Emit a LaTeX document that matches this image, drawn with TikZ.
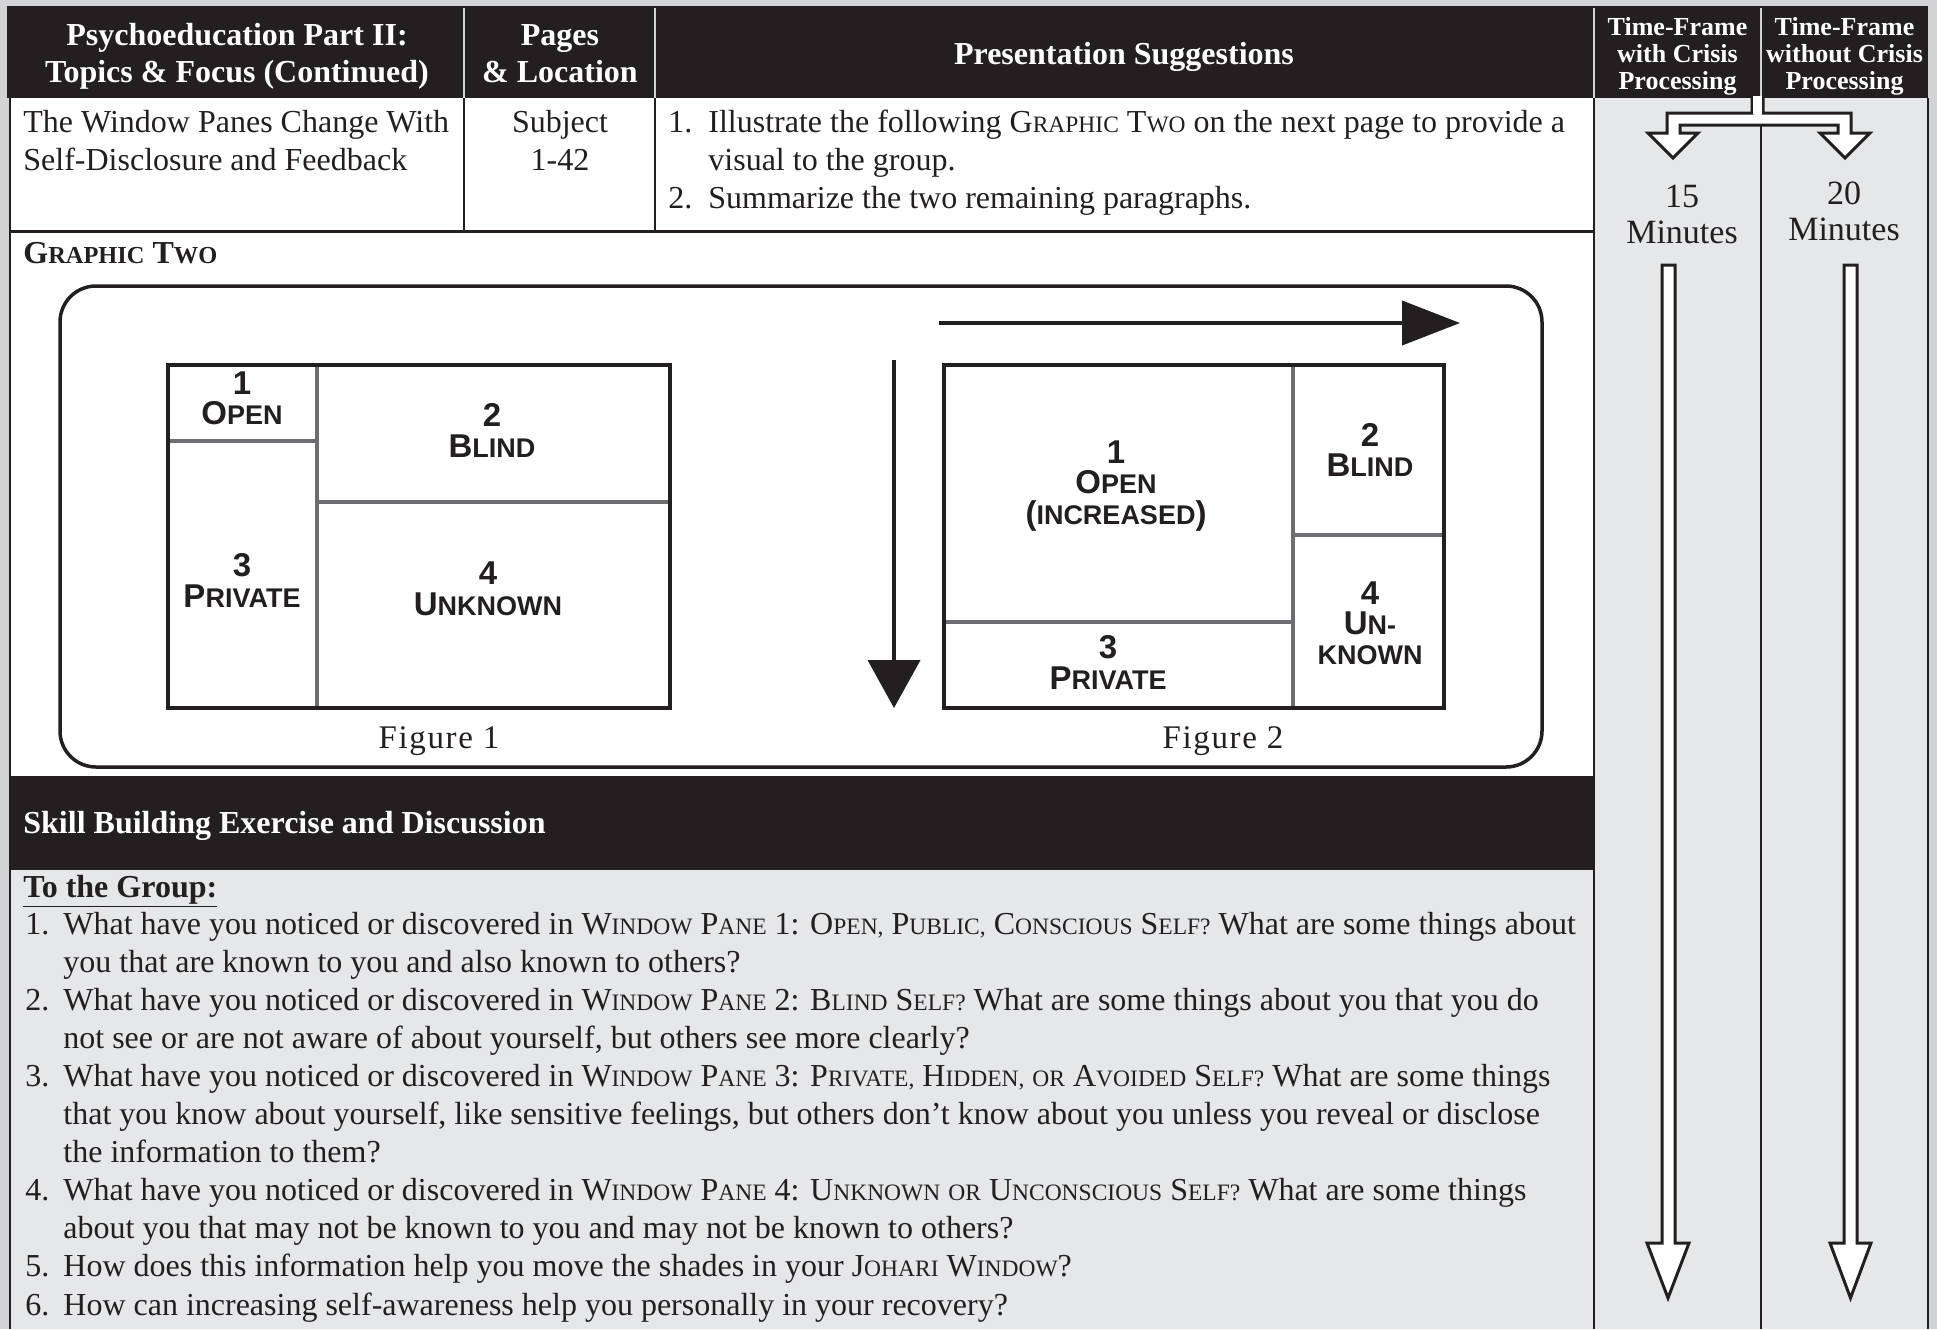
\documentclass[tikz,border=0pt]{standalone}
\usepackage{fontspec}
\setmainfont{Liberation Serif}
\newfontfamily\lsans{Liberation Sans}
\newfontfamily\figfont[LetterSpace=5]{Liberation Serif}
\usetikzlibrary{arrows.meta}
\definecolor{ink}{HTML}{231F20}
\definecolor{margin}{HTML}{D1D3D4}
\definecolor{lgray}{HTML}{E6E7E8}
\definecolor{pane}{HTML}{6D6E71}
\newcommand\sk[1]{{\fontsize{11.75}{12}\selectfont #1}}
\newcommand\skb[1]{{\fontsize{12.2}{12}\selectfont #1}}
\newcommand\fb[1]{{\fontsize{16.5}{16}\selectfont #1}}
\newcommand\fs[1]{{\fontsize{13.5}{13}\selectfont #1}}
\begin{document}
\begin{tikzpicture}[x=0.5pt,y=-0.5pt,
  hd/.style={anchor=base, inner sep=0, text=white, font=\bfseries\fontsize{16}{18}\selectfont},
  hdl/.style={hd, anchor=base west},
  tf/.style={anchor=base, inner sep=0, text=white, font=\bfseries\fontsize{13}{14}\selectfont},
  bd/.style={anchor=base west, inner sep=0, text=ink, font=\fontsize{16}{18}\selectfont},
  bdc/.style={bd, anchor=base},
  bdb/.style={bd, font=\bfseries\fontsize{16}{18}\selectfont},
  mn/.style={anchor=base, inner sep=0, text=ink, font=\fontsize{17}{18}\selectfont},
  lb/.style={anchor=base, inner sep=0, text=ink, font=\lsans\bfseries},
  figcap/.style={anchor=base, inner sep=0, text=ink, font=\figfont\fontsize{16.5}{18}\selectfont},
  paneline/.style={draw=pane, line width=2pt},
  frame/.style={draw=ink, line width=2pt},
  vline/.style={draw=ink, line width=1pt},
  hline/.style={draw=margin, line width=0.8pt},
  hollow/.style={fill=white, draw=ink, line width=1.5pt, line join=miter},
  bigarrow/.style={draw=ink, line width=2pt}
]
\useasboundingbox (0,0) rectangle (1937,1329);
% backgrounds
\fill[margin] (0,0) rectangle (1937,1329);
\fill[white] (9,98) rectangle (1594,870);
\fill[lgray] (9,870) rectangle (1594,1329);
\fill[lgray] (1594,98) rectangle (1928,1329);
\fill[ink] (7,6) rectangle (1928,98);
\fill[ink] (9,776) rectangle (1594,870);
% header dividers
\foreach \xx in {464,655,1594,1761} \draw[hline] (\xx,8) -- (\xx,98);
% table lines
\draw[vline] (464,98) -- (464,231);
\draw[vline] (655,98) -- (655,231);
\draw[draw=ink, line width=1.5pt] (9,231) -- (1594,231);
\draw[vline] (9.5,98) -- (9.5,1329);
\draw[vline] (1594,98) -- (1594,1329);
\draw[vline] (1761,98) -- (1761,1329);
\draw[vline] (1928,98) -- (1928,1329);

% header text
\node[hd] (h1a) at (237,45) {Psychoeducation Part II:};
\node[hd] (h1b) at (237,82) {Topics \& Focus (Continued)};
\node[hd] (h2a) at (560,45) {Pages};
\node[hd] (h2b) at (560,82) {\& Location};
\node[hd] (h3) at (1124,64) {Presentation Suggestions};
\node[tf] (h4a) at (1677.5,35) {Time-Frame};
\node[tf] (h4b) at (1677.5,62) {with Crisis};
\node[tf] (h4c) at (1677.5,89) {Processing};
\node[tf] (h5a) at (1844.5,35) {Time-Frame};
\node[tf] (h5b) at (1844.5,62) {without Crisis};
\node[tf] (h5c) at (1844.5,89) {Processing};

% row 1
\node[bd] (t1a) at (23,132) {The Window Panes Change With};
\node[bd] (t1b) at (23,170) {Self-Disclosure and Feedback};
\node[bdc] (p1a) at (560,132) {Subject};
\node[bdc] (p1b) at (560,170) {1-42};
\node[bd] (s1n) at (668,132) {1.};
\node[bd] (s1a) at (708,132) {Illustrate the following G\sk{RAPHIC} T\sk{WO} on the next page to provide a};
\node[bd] (s1b) at (708,170) {visual to the group.};
\node[bd] (s2n) at (668,208) {2.};
\node[bd] (s2a) at (708,208) {Summarize the two remaining paragraphs.};

\node[bdb] (g2) at (23,263) {G\skb{RAPHIC} T\skb{WO}};

% graphic frame
\draw[draw=ink, line width=1.75pt, rounded corners=18pt] (60,286) rectangle (1542,767);

% figure 1
\draw[paneline] (317,365) -- (317,708);
\draw[paneline] (168,441) -- (317,441);
\draw[paneline] (317,502) -- (670,502);
\draw[frame] (168,365) rectangle (670,708);
\node[lb] (a1n) at (242,394) {\fb{1}};
\node[lb] (a1t) at (242,424) {\fb{O}\fs{PEN}};
\node[lb] (a2n) at (492,426) {\fb{2}};
\node[lb] (a2t) at (492,457) {\fb{B}\fs{LIND}};
\node[lb] (a3n) at (242,576) {\fb{3}};
\node[lb] (a3t) at (242,607) {\fb{P}\fs{RIVATE}};
\node[lb] (a4n) at (488,584) {\fb{4}};
\node[lb] (a4t) at (488,615) {\fb{U}\fs{NKNOWN}};
\node[figcap] (cap1) at (439,748) {Figure 1};

% figure 2
\draw[paneline] (1293,365) -- (1293,708);
\draw[paneline] (944,622) -- (1293,622);
\draw[paneline] (1293,535) -- (1444,535);
\draw[frame] (944,365) rectangle (1444,708);
\node[lb] (b1n) at (1116,463) {\fb{1}};
\node[lb] (b1t) at (1116,493) {\fb{O}\fs{PEN}};
\node[lb] (b1u) at (1116,524) {\fb{(}\fs{INCREASED}\fb{)}};
\node[lb] (b2n) at (1370,446) {\fb{2}};
\node[lb] (b2t) at (1370,476) {\fb{B}\fs{LIND}};
\node[lb] (b3n) at (1108,658) {\fb{3}};
\node[lb] (b3t) at (1108,689) {\fb{P}\fs{RIVATE}};
\node[lb] (b4n) at (1370,604) {\fb{4}};
\node[lb] (b4t) at (1370,634) {\fb{U}\fs{N-}};
\node[lb] (b4u) at (1370,664) {\fs{KNOWN}};
\node[figcap] (cap2) at (1223,748) {Figure 2};

\coordinate (hs) at (939,323);
\coordinate (he) at (1460,323);
\coordinate (vs) at (894,360);
\coordinate (ve) at (894,708);
\draw[bigarrow, -{Triangle[length=29pt,width=22pt]}] (hs) -- (he);
\draw[bigarrow, -{Triangle[length=24pt,width=26pt]}] (vs) -- (ve);

% skill building
\node[hdl] (sk) at (23,833) {Skill Building Exercise and Discussion};
\node[bdb] (grp) at (23,897) {\underline{To the Group:}};

\node[bd] (n1) at (25,934) {1.};
\node[bd] (l1) at (63,934) {What have you noticed or discovered in W\sk{INDOW} P\sk{ANE} 1: O\sk{PEN,} P\sk{UBLIC,} C\sk{ONSCIOUS} S\sk{ELF?} What are some things about};
\node[bd] (l2) at (63,972.1) {you that are known to you and also known to others?};
\node[bd] (n2) at (25,1010.2) {2.};
\node[bd] (l3) at (63,1010.2) {What have you noticed or discovered in W\sk{INDOW} P\sk{ANE} 2: B\sk{LIND} S\sk{ELF?} What are some things about you that you do};
\node[bd] (l4) at (63,1048.3) {not see or are not aware of about yourself, but others see more clearly?};
\node[bd] (n3) at (25,1086.4) {3.};
\node[bd] (l5) at (63,1086.4) {What have you noticed or discovered in W\sk{INDOW} P\sk{ANE} 3: P\sk{RIVATE,} H\sk{IDDEN,} \sk{OR} A\sk{VOIDED} S\sk{ELF?} What are some things};
\node[bd] (l6) at (63,1124.5) {that you know about yourself, like sensitive feelings, but others don’t know about you unless you reveal or disclose};
\node[bd] (l7) at (63,1162.6) {the information to them?};
\node[bd] (n4) at (25,1200.7) {4.};
\node[bd] (l8) at (63,1200.7) {What have you noticed or discovered in W\sk{INDOW} P\sk{ANE} 4: U\sk{NKNOWN} \sk{OR} U\sk{NCONSCIOUS} S\sk{ELF?} What are some things};
\node[bd] (l9) at (63,1238.8) {about you that may not be known to you and may not be known to others?};
\node[bd] (n5) at (25,1276.9) {5.};
\node[bd] (l10) at (63,1276.9) {How does this information help you move the shades in your J\sk{OHARI} W\sk{INDOW}?};
\node[bd] (n6) at (25,1315) {6.};
\node[bd] (l11) at (63,1315) {How can increasing self-awareness help you personally in your recovery?};

% time-frame column arrows
\draw[hollow] (1752,97) -- (1752,113) -- (1667,113) -- (1667,133) -- (1648,133) -- (1673,158) -- (1698,133) -- (1680,133) -- (1680,125) -- (1838,125) -- (1838,133) -- (1820,133) -- (1845,158) -- (1870,133) -- (1851,133) -- (1851,113) -- (1763,113) -- (1763,97);
\fill[white] (1753,96) rectangle (1762,114);
\node[mn] (m1a) at (1682,207) {15};
\node[mn] (m1b) at (1682,243) {Minutes};
\node[mn] (m2a) at (1844,204) {20};
\node[mn] (m2b) at (1844,240) {Minutes};
\draw[hollow] (1662,265) -- (1675,265) -- (1675,1243) -- (1689,1243) -- (1668,1298) -- (1647,1243) -- (1662,1243) -- cycle;
\draw[hollow] (1844,265) -- (1857,265) -- (1857,1243) -- (1871,1243) -- (1850.5,1298) -- (1830,1243) -- (1844,1243) -- cycle;
\end{tikzpicture}
\end{document}
